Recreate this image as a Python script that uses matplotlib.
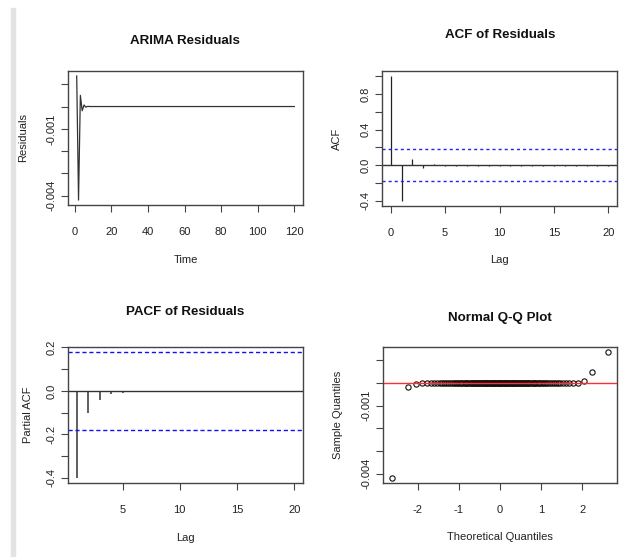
import statistics
import matplotlib
matplotlib.use("Agg")
import matplotlib.pyplot as plt
from matplotlib.patches import Rectangle
from matplotlib.ticker import FixedLocator, FixedFormatter
import numpy as np

plt.rcParams['font.family'] = ['Liberation Sans', 'DejaVu Sans']
plt.rcParams['axes.unicode_minus'] = False

# residuals of the fitted ARIMA model (t = 1..120), flat at zero after t = 7
residuals = [0.00137, -0.00419, 0.00050, -0.00019, 0.00007, -0.00003, 0.00001] + [0.0] * 113
time = np.arange(1, len(residuals) + 1)

# ACF, lags 0..20
acf_lags = list(range(0, 21))
acf_vals = [1.0, -0.40, 0.074, -0.030, 0.014, -0.008, -0.006, -0.006, -0.006, -0.006,
            -0.006, -0.006, -0.006, -0.006, -0.006, -0.006, -0.006, -0.006, -0.006, -0.006, -0.006]

# PACF, lags 1..20
pacf_lags = list(range(1, 21))
pacf_vals = [-0.40, -0.103, -0.041, -0.015, -0.010, -0.006, -0.006, -0.006, -0.006, -0.006,
             -0.006, -0.006, -0.006, -0.006, -0.006, -0.006, -0.006, -0.006, -0.006, -0.006]

clim = 1.96 / np.sqrt(len(residuals))

W, H = 643, 557
fig = plt.figure(figsize=(W / 100, H / 100), dpi=100)
fig.patches.append(Rectangle((11 / W, 0), 4 / W, 1 - 8 / H, transform=fig.transFigure,
                             color='#e3e3e3', zorder=0))

TICK_FS = 8
LAB_FS = 8
TITLE_FS = 9.6
DARK = '#222222'


def panel(x0, y0, x1, y1):
    ax = fig.add_axes([x0 / W, 1 - y1 / H, (x1 - x0) / W, (y1 - y0) / H])
    for s in ax.spines.values():
        s.set_color('#444444')
        s.set_linewidth(1.0)
    ax.tick_params(direction='out', length=5, width=0.8, color='#444444',
                   labelsize=TICK_FS, labelcolor=DARK)
    ax.tick_params(axis='x', pad=10.5)
    ax.tick_params(axis='y', pad=3)
    return ax


def labels(ax, xlab, ylab, box, xtop, yright):
    # place axis labels at pixel positions like R's mgp
    x0, y0, x1, y1 = box
    ax.set_xlabel(xlab, fontsize=LAB_FS, color=DARK)
    ax.set_ylabel(ylab, fontsize=LAB_FS, color=DARK)
    ax.xaxis.set_label_coords(0.5, -(xtop - y1) / (y1 - y0))
    ax.yaxis.set_label_coords(-(x0 - yright) / (x1 - x0), 0.5)


def rlim(lo, hi):
    d = (hi - lo) * 0.04
    return lo - d, hi + d


def yticks(ax, ticks, shown):
    ax.yaxis.set_major_locator(FixedLocator(ticks))
    ax.yaxis.set_major_formatter(FixedFormatter(shown))
    for lab in ax.get_yticklabels():
        lab.set_rotation(90)
        lab.set_va('center')


def title(x, y, s):
    fig.text(x / W, 1 - y / H, s, ha='center', va='center',
             fontsize=TITLE_FS, fontweight='bold', color='#111111')


# --- ARIMA Residuals
box1 = (68, 71, 303, 205)
ax1 = panel(*box1)
ax1.plot(time, residuals, color='#333333', lw=0.9)
ax1.set_xlim(rlim(time.min(), time.max()))
ax1.set_ylim(rlim(min(residuals), max(residuals)))
ax1.set_xticks([0, 20, 40, 60, 80, 100, 120])
yticks(ax1, [0.001, 0, -0.001, -0.002, -0.003, -0.004],
       ['', '', '-0.001', '', '', '-0.004'])
labels(ax1, 'Time', 'Residuals', box1, 255, 28)
title(185, 41, 'ARIMA Residuals')

# --- ACF of Residuals
box2 = (382, 71, 617, 206)
ax2 = panel(*box2)
ax2.vlines(acf_lags, 0, acf_vals, color='#222222', lw=0.9)
ax2.axhline(0, color='#333333', lw=1.0)
for c in (clim, -clim):
    ax2.axhline(c, color='#2020ff', lw=1.0, ls=(0, (2.2, 2.2)))
ax2.set_xlim(rlim(min(acf_lags), max(acf_lags)))
ax2.set_ylim(rlim(min(min(acf_vals), -clim), max(max(acf_vals), clim)))
ax2.set_xticks([0, 5, 10, 15, 20])
yticks(ax2, [1.0, 0.8, 0.6, 0.4, 0.2, 0.0, -0.2, -0.4],
       ['', '0.8', '', '0.4', '', '0.0', '', '-0.4'])
labels(ax2, 'Lag', 'ACF', box2, 255, 342)
title(500, 35, 'ACF of Residuals')

# --- PACF of Residuals
box3 = (68, 347, 303, 483)
ax3 = panel(*box3)
ax3.vlines(pacf_lags, 0, pacf_vals, color='#333333', lw=1.1)
ax3.axhline(0, color='#333333', lw=1.0)
for c in (clim, -clim):
    ax3.axhline(c, color='#1010ff', lw=1.0, ls=(0, (3, 2)))
ax3.set_xlim(rlim(min(pacf_lags), max(pacf_lags)))
ax3.set_ylim(rlim(min(min(pacf_vals), -clim), max(max(pacf_vals), clim)))
ax3.set_xticks([5, 10, 15, 20])
yticks(ax3, [0.2, 0.1, 0.0, -0.1, -0.2, -0.3, -0.4],
       ['0.2', '', '0.0', '', '-0.2', '', '-0.4'])
labels(ax3, 'Lag', 'Partial ACF', box3, 533, 33)
title(185, 312, 'PACF of Residuals')

# --- Normal Q-Q Plot
n = len(residuals)
nd = statistics.NormalDist()
theo = np.array([nd.inv_cdf((i - 0.5) / n) for i in range(1, n + 1)])
samp = np.sort(residuals)
q25, q75 = np.percentile(samp, [25, 75])
t25, t75 = nd.inv_cdf(0.25), nd.inv_cdf(0.75)
slope = (q75 - q25) / (t75 - t25)
icpt = q25 - slope * t25

box4 = (383, 347, 617, 483)
ax4 = panel(*box4)
ax4.plot(theo, samp, ls='none', marker='o', ms=3.8, mfc='none', mec='#111111', mew=0.8)
ax4.axline((0, icpt), slope=slope, color='#ff3030', lw=1.0)
ax4.set_xlim(rlim(theo.min(), theo.max()))
ax4.set_ylim(rlim(samp.min(), samp.max()))
ax4.set_xticks([-2, -1, 0, 1, 2])
yticks(ax4, [0.001, 0, -0.001, -0.002, -0.003, -0.004],
       ['', '', '-0.001', '', '', '-0.004'])
labels(ax4, 'Theoretical Quantiles', 'Sample Quantiles', box4, 532, 343)
title(500, 318, 'Normal Q-Q Plot')

fig.savefig('out.png', dpi=100)
